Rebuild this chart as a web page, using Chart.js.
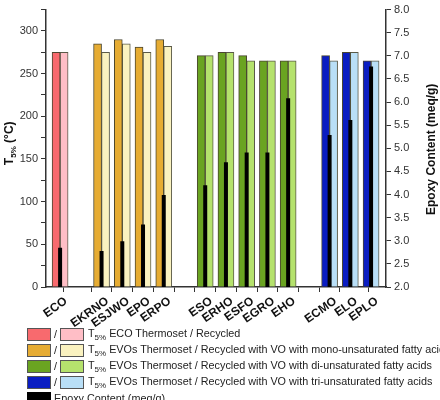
<!DOCTYPE html>
<html>
<head>
<meta charset="utf-8">
<script src="https://cdn.jsdelivr.net/npm/chart.js@4/dist/chart.umd.min.js"></script>
<style>
    body { margin: 0; background: #fff; font-family: "Liberation Sans", Arial, sans-serif; }
    #wrap { position: relative; width: 440px; height: 400px; overflow: hidden; }
    #legend { position: absolute; left: 27px; top: 326px; font-size: 10.8px; color: #222; }
    .row { display: flex; align-items: center; height: 16px; }
    .box { width: 22px; height: 11px; border: 1px solid #555; }
    .slash { width: 9px; text-align: center; }
    .label { margin-left: 4px; white-space: nowrap; }
    .label sub { font-size: 8px; vertical-align: -3px; }
</style>
</head>
<body>
<div id="wrap">
    <canvas id="chart" width="440" height="400"></canvas>
    <div id="legend"></div>
</div>
<script>
// Samples (empty strings are the gaps between groups)
const samples = ['ECO', '', 'EKRNO', 'ESJWO', 'EPO', 'ERPO', '', 'ESO', 'ERHO', 'ESFO', 'EGRO', 'EHO', '', 'ECMO', 'ELO', 'EPLO'];
const group = [0, -1, 1, 1, 1, 1, -1, 2, 2, 2, 2, 2, -1, 3, 3, 3];

// T5% in °C
const thermosetT5 = [275, null, 285, 290, 281, 290, null, 271, 275, 271, 265, 265, null, 271, 275, 265];
const recycledT5 = [275, null, 275, 285, 275, 282, null, 271, 275, 265, 265, 265, null, 265, 275, 265];
// Epoxy content in meq/g
const epoxyContent = [2.85, null, 2.78, 2.99, 3.35, 3.99, null, 4.2, 4.7, 4.91, 4.91, 6.08, null, 5.29, 5.61, 6.77];

const darkColors = ['#F86A6E', '#E6AC33', '#6AA421', '#0A1DC2'];
const lightColors = ['#FFBEC6', '#FAF2C0', '#B5E26D', '#B9DFF7'];
const legendTexts = [
    'ECO Thermoset / Recycled',
    'EVOs Thermoset / Recycled with VO with mono-unsaturated fatty acids',
    'EVOs Thermoset / Recycled with VO with di-unsaturated fatty acids',
    'EVOs Thermoset / Recycled with VO with tri-unsaturated fatty acids'
];

const pick = (colors) => group.map(g => g < 0 ? 'transparent' : colors[g]);
const toPoints = (values) => values.map((v, i) => ({ x: i, y: v }));
const axisColor = '#333';
const fontFamily = '"Liberation Sans", Arial, sans-serif';
const font = { family: fontFamily, size: 11 };

// Axis titles (both read bottom-to-top) and rotated sample labels
const axisTitles = {
    id: 'axisTitles',
    afterDraw(chart) {
        const ctx = chart.ctx;
        const area = chart.chartArea;
        const midY = (area.top + area.bottom) / 2;
        ctx.save();
        ctx.fillStyle = '#111';
        ctx.textBaseline = 'middle';

        // left: T5% (°C)
        ctx.save();
        ctx.translate(10, midY - 5);
        ctx.rotate(-Math.PI / 2);
        ctx.font = 'bold 12px ' + fontFamily;
        const wT = ctx.measureText('T').width;
        ctx.font = 'bold 8px ' + fontFamily;
        const wSub = ctx.measureText('5%').width;
        ctx.font = 'bold 12px ' + fontFamily;
        const rest = ' (°C)';
        const wRest = ctx.measureText(rest).width;
        let x = -(wT + wSub + wRest) / 2;
        ctx.textAlign = 'left';
        ctx.fillText('T', x, 0);
        x += wT;
        ctx.font = 'bold 8px ' + fontFamily;
        ctx.fillText('5%', x, 4);
        x += wSub;
        ctx.font = 'bold 12px ' + fontFamily;
        ctx.fillText(rest, x, 0);
        ctx.restore();

        // right: Epoxy Content (meq/g)
        ctx.save();
        ctx.translate(432, midY + 1);
        ctx.rotate(-Math.PI / 2);
        ctx.font = 'bold 12px ' + fontFamily;
        ctx.textAlign = 'center';
        ctx.fillText('Epoxy Content (meq/g)', 0, 0);
        ctx.restore();

        // sample names under the x axis
        const xScale = chart.scales.x;
        ctx.font = 'bold 12px ' + fontFamily;
        ctx.textAlign = 'right';
        samples.forEach((name, i) => {
            if (!name) return;
            ctx.save();
            ctx.translate(xScale.getPixelForValue(i) + 6, area.bottom + 13);
            ctx.rotate(-35 * Math.PI / 180);
            ctx.fillText(name, 0, 0);
            ctx.restore();
        });

        ctx.restore();
    }
};

new Chart(document.getElementById('chart'), {
    type: 'bar',
    data: {
        datasets: [
            {
                label: 'Thermoset',
                data: toPoints(thermosetT5),
                yAxisID: 'y',
                backgroundColor: pick(darkColors),
                borderColor: '#4a4630',
                borderWidth: 1,
                barThickness: 8
            },
            {
                label: 'Recycled',
                data: toPoints(recycledT5),
                yAxisID: 'y',
                backgroundColor: pick(lightColors),
                borderColor: '#5a5a48',
                borderWidth: 1,
                barThickness: 8
            },
            {
                label: 'Epoxy Content (meq/g)',
                data: toPoints(epoxyContent),
                yAxisID: 'y1',
                backgroundColor: '#000',
                borderWidth: 0,
                grouped: false,
                maxBarThickness: 4,
                order: -1
            }
        ]
    },
    options: {
        responsive: false,
        animation: false,
        layout: { padding: { top: 7 } },
        plugins: {
            legend: { display: false },
            tooltip: { enabled: false }
        },
        scales: {
            x: {
                type: 'linear',
                min: -0.68,
                max: 15.72,
                offset: false,
                afterFit: (scale) => { scale.height = 113; },
                grid: { drawOnChartArea: false, tickLength: 5, color: axisColor },
                border: { color: axisColor, width: 1.5 },
                ticks: {
                    stepSize: 1,
                    autoSkip: false,
                    maxRotation: 0,
                    callback: () => ''
                }
            },
            y: {
                position: 'left',
                min: 0,
                max: 325,
                afterFit: (scale) => { scale.width = 46; },
                grid: { drawOnChartArea: false, tickLength: 5, color: axisColor },
                border: { color: axisColor, width: 1.5 },
                ticks: {
                    stepSize: 25,
                    padding: 3,
                    color: '#333',
                    font: font,
                    callback: (v) => v % 50 === 0 ? v : ''
                }
            },
            y1: {
                position: 'right',
                min: 2,
                max: 8,
                afterFit: (scale) => { scale.width = 54; },
                grid: { drawOnChartArea: false, tickLength: 5, color: axisColor },
                border: { color: axisColor, width: 1.5 },
                ticks: {
                    stepSize: 0.25,
                    padding: 3,
                    color: '#333',
                    font: font,
                    callback: (v) => Math.abs(v * 2 - Math.round(v * 2)) < 1e-6 ? v.toFixed(1) : ''
                }
            }
        }
    },
    plugins: [axisTitles]
});

// Legend below the chart
const legend = document.getElementById('legend');
legendTexts.forEach((text, i) => {
    const row = document.createElement('div');
    row.className = 'row';
    row.innerHTML = `<div class="box" style="background:${darkColors[i]}"></div><div class="slash">/</div>` +
        `<div class="box" style="background:${lightColors[i]}"></div>` +
        `<div class="label">T<sub>5%</sub> ${text}</div>`;
    legend.appendChild(row);
});
const lastRow = document.createElement('div');
lastRow.className = 'row';
lastRow.innerHTML = '<div class="box" style="background:#000;border-color:#000"></div><div class="label" style="margin-left:3px">Epoxy Content (meq/g)</div>';
legend.appendChild(lastRow);
</script>
</body>
</html>
